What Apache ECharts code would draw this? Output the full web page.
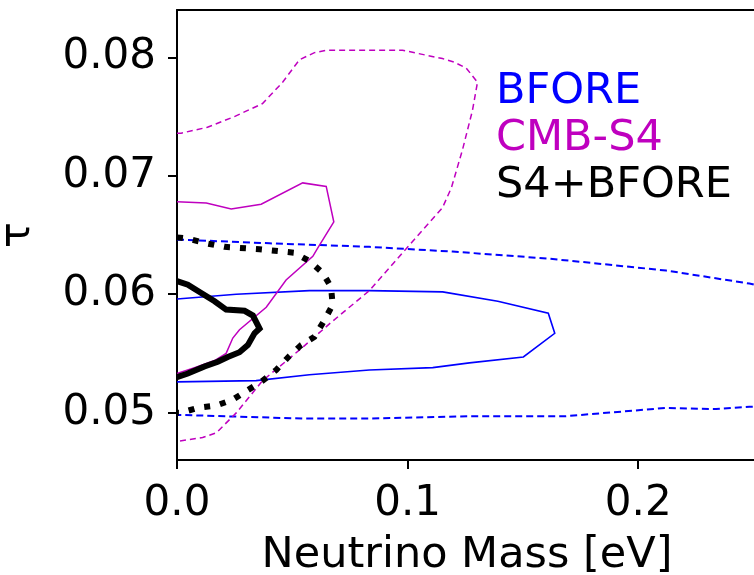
<!DOCTYPE html>
<html>
<head>
<meta charset="utf-8">
<script src="https://cdn.jsdelivr.net/npm/echarts@6/dist/echarts.min.js"></script>
<style>
  html, body { margin: 0; padding: 0; background: #ffffff; }
  #chart { width: 754px; height: 575px; }
</style>
</head>
<body>
<div id="chart"></div>
<script>
// Confidence contours in the (neutrino mass, tau) plane, as [m_nu (eV), tau] pairs.
const xTicks = [0.0, 0.1, 0.2];
const yTicks = [0.05, 0.06, 0.07, 0.08];

// BFORE: inner (solid) and outer (dashed) contours
const bforeInner = [
  [0.0000, 0.0596], [0.0257, 0.0600], [0.0574, 0.0603], [0.0834, 0.0603],
  [0.1152, 0.0602], [0.1391, 0.0594], [0.1610, 0.0584], [0.1638, 0.0567],
  [0.1502, 0.0547], [0.1268, 0.0542], [0.1109, 0.0538], [0.0834, 0.0536],
  [0.0574, 0.0532], [0.0343, 0.0527], [0.0000, 0.0526]
];
const bforeOuter = [
  [0.0000, 0.0646], [0.0025, 0.0646], [0.0401, 0.0643], [0.0834, 0.0640],
  [0.1195, 0.0636], [0.1615, 0.0630], [0.2121, 0.0620], [0.2482, 0.0609],
  [0.2612, 0.0603],
  [0.2612, 0.0505], [0.2482, 0.0505], [0.2337, 0.0503], [0.2121, 0.0504],
  [0.1687, 0.0497], [0.1268, 0.0497], [0.0834, 0.0495], [0.0545, 0.0495],
  [0.0025, 0.0498], [0.0000, 0.0498]
];

// CMB-S4: inner (solid) and outer (dashed) contours
const s4Inner = [
  [0.0000, 0.0678], [0.0127, 0.0677], [0.0235, 0.0672], [0.0365, 0.0676],
  [0.0545, 0.0694], [0.0647, 0.0691], [0.0680, 0.0661], [0.0610, 0.0639],
  [0.0589, 0.0632], [0.0473, 0.0612], [0.0387, 0.0589], [0.0271, 0.0570],
  [0.0242, 0.0563], [0.0213, 0.0550], [0.0163, 0.0544], [0.0076, 0.0538],
  [0.0000, 0.0533]
];
const s4Outer = [
  [0.0000, 0.0736], [0.0018, 0.0736], [0.0132, 0.0741], [0.0249, 0.0750],
  [0.0371, 0.0761], [0.0458, 0.0779], [0.0531, 0.0798], [0.0596, 0.0804],
  [0.0648, 0.0806], [0.0791, 0.0806], [0.0978, 0.0806], [0.1151, 0.0799],
  [0.1201, 0.0796], [0.1254, 0.0791], [0.1303, 0.0779], [0.1281, 0.0755],
  [0.1238, 0.0722], [0.1190, 0.0690], [0.1151, 0.0673], [0.1064, 0.0654],
  [0.0978, 0.0635], [0.0834, 0.0603], [0.0661, 0.0575], [0.0544, 0.0555],
  [0.0371, 0.0527], [0.0258, 0.0500], [0.0171, 0.0483], [0.0111, 0.0479],
  [0.0011, 0.0476], [0.0000, 0.0476]
];

// S4+BFORE combined: inner (thick solid) and outer (thick dotted) contours
const comboInner = [
  [0.0000, 0.0611], [0.0047, 0.0608], [0.0105, 0.0601], [0.0163, 0.0594],
  [0.0213, 0.0587], [0.0293, 0.0586], [0.0329, 0.0582], [0.0358, 0.0571],
  [0.0336, 0.0567], [0.0307, 0.0557], [0.0271, 0.0551], [0.0220, 0.0547],
  [0.0177, 0.0543], [0.0119, 0.0539], [0.0047, 0.0533], [0.0000, 0.0530]
];
const comboOuter = [
  [0.0000, 0.0648], [0.0047, 0.0647], [0.0127, 0.0643], [0.0206, 0.0640],
  [0.0358, 0.0638], [0.0509, 0.0635], [0.0574, 0.0628], [0.0632, 0.0618],
  [0.0668, 0.0606], [0.0675, 0.0591], [0.0639, 0.0578], [0.0596, 0.0564],
  [0.0538, 0.0557], [0.0488, 0.0548], [0.0430, 0.0536], [0.0372, 0.0527],
  [0.0307, 0.0519], [0.0242, 0.0511], [0.0170, 0.0506], [0.0090, 0.0504],
  [0.0018, 0.0500], [0.0000, 0.0500]
];

const BLUE = '#0000ff';
const MAGENTA = '#bf00bf';
const BLACK = '#000000';
const FONT = 'DejaVu Sans';

function contour(name, data, color, width, type, z) {
  return {
    name: name,
    type: 'line',
    data: data,
    showSymbol: false,
    symbol: 'none',
    smooth: false,
    clip: true,
    z: z,
    silent: true,
    lineStyle: { color: color, width: width, type: type, cap: 'butt', join: 'miter' },
    emphasis: { disabled: true }
  };
}

const chart = echarts.init(document.getElementById('chart'), null, { renderer: 'canvas' });

chart.setOption({
  backgroundColor: '#ffffff',
  animation: false,
  textStyle: { fontFamily: FONT },
  grid: { left: 177, top: 10, width: 580, height: 450, containLabel: false, outerBoundsMode: 'none' },
  legend: {
    orient: 'vertical',
    left: 486,
    top: 65,
    itemWidth: 0,
    itemHeight: 0,
    itemGap: 4,
    icon: 'none',
    selectedMode: false,
    data: [
      { name: 'BFORE', textStyle: { color: BLUE } },
      { name: 'CMB-S4', textStyle: { color: MAGENTA } },
      { name: 'S4+BFORE', textStyle: { color: BLACK } }
    ],
    textStyle: { fontFamily: FONT, fontSize: 43 }
  },
  xAxis: [
    {
      type: 'value',
      min: 0,
      max: 0.2515,
      position: 'bottom',
      name: 'Neutrino Mass [eV]',
      nameLocation: 'middle',
      nameGap: 74,
      nameTextStyle: { fontFamily: FONT, fontSize: 43, color: BLACK },
      axisLine: { show: true, onZero: false, lineStyle: { color: BLACK, width: 2 } },
      axisTick: { show: true, inside: false, length: 9, lineStyle: { color: BLACK, width: 2 }, customValues: xTicks },
      axisLabel: {
        show: true, margin: 23, fontFamily: FONT, fontSize: 42, color: BLACK,
        customValues: xTicks,
        formatter: v => v.toFixed(1)
      },
      splitLine: { show: false }
    },
    {
      type: 'value',
      min: 0,
      max: 0.2515,
      position: 'top',
      axisLine: { show: true, onZero: false, lineStyle: { color: BLACK, width: 2 } },
      axisTick: { show: false },
      axisLabel: { show: false },
      splitLine: { show: false }
    }
  ],
  yAxis: {
    type: 'value',
    min: 0.046,
    max: 0.084,
    name: 'τ',
    nameLocation: 'middle',
    nameRotate: 90,
    nameGap: 138,
    nameTextStyle: { fontFamily: FONT, fontSize: 43, color: BLACK },
    axisLine: { show: true, onZero: false, lineStyle: { color: BLACK, width: 2 } },
    axisTick: { show: true, inside: false, length: 9, lineStyle: { color: BLACK, width: 2 }, customValues: yTicks },
    axisLabel: {
      show: true, margin: 21, fontFamily: FONT, fontSize: 42, color: BLACK,
      customValues: yTicks,
      formatter: v => v.toFixed(2)
    },
    splitLine: { show: false }
  },
  series: [
    contour('BFORE', bforeOuter, BLUE, 2, [7, 4], 2),
    contour('BFORE', bforeInner, BLUE, 1.6, 'solid', 2),
    contour('CMB-S4', s4Outer, MAGENTA, 1.5, [6, 4], 3),
    contour('CMB-S4', s4Inner, MAGENTA, 1.5, 'solid', 3),
    contour('S4+BFORE', comboOuter, BLACK, 6, [6, 10], 4),
    contour('S4+BFORE', comboInner, BLACK, 6, 'solid', 5)
  ]
});
</script>
</body>
</html>
